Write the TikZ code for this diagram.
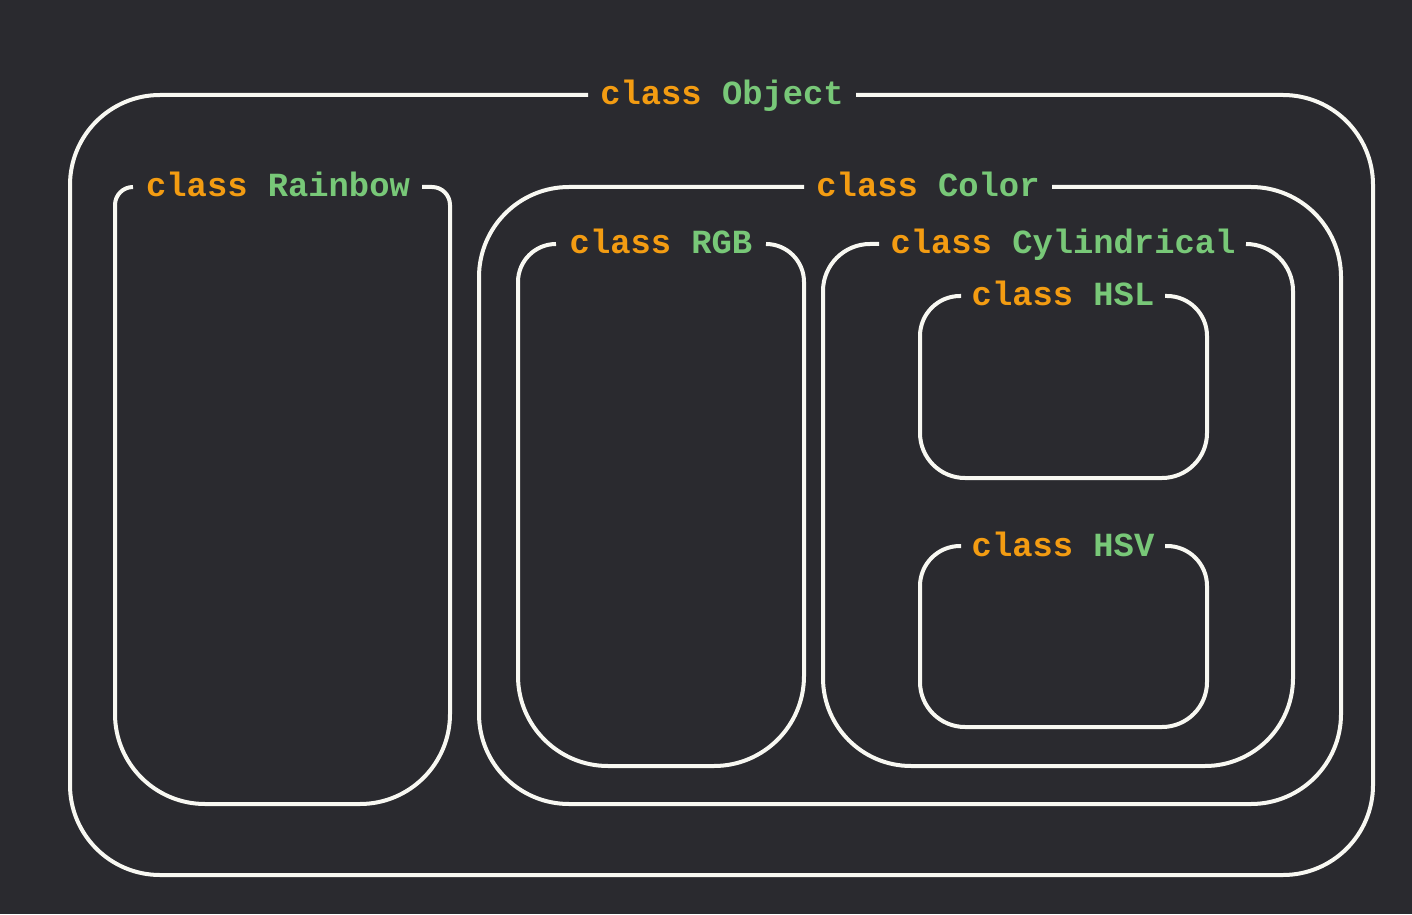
\documentclass[tikz,border=0pt]{standalone}
\usepackage{fontspec}
\newfontfamily\codefont{Liberation Mono}
\definecolor{bgc}{RGB}{42,42,47}
\definecolor{linec}{RGB}{248,248,242}
\definecolor{kwc}{RGB}{243,156,18}
\definecolor{namec}{RGB}{120,200,120}
\newcommand\kw[1]{\textcolor{kwc}{#1}}
\newcommand\nm[1]{\textcolor{namec}{#1}}
% #1 x1, #2 x2, #3 top y (px), #4 bottom y (px), #5 top radius, #6 bottom radius, #7 gap left, #8 gap right
\newcommand\classbox[8]{%
  \draw[boxline] ({#8},{914-#3}) -- ({#2-#5},{914-#3})
    arc[start angle=90,end angle=0,radius=#5pt]
    -- ({#2},{914-#4+#6})
    arc[start angle=0,end angle=-90,radius=#6pt]
    -- ({#1+#6},{914-#4})
    arc[start angle=270,end angle=180,radius=#6pt]
    -- ({#1},{914-#3-#5})
    arc[start angle=180,end angle=90,radius=#5pt]
    -- ({#7},{914-#3});}
\begin{document}
\begin{tikzpicture}[x=1pt,y=1pt,
  boxline/.style={draw=linec,line width=4pt},
  lbl/.style={anchor=base,inner sep=0pt,font=\codefont\bfseries\fontsize{33.8}{40}\selectfont}]
\fill[bgc] (0,0) rectangle (1412,914);
\useasboundingbox (0,0) rectangle (1412,914);
% boxes
\classbox{70}{1373}{95}{875}{90}{90}{588}{856}
\classbox{115}{450}{187}{804}{18}{90}{133}{422}
\classbox{479}{1341}{187}{804}{90}{90}{804}{1052}
\classbox{518}{804}{244}{766}{38}{90}{556}{766}
\classbox{823}{1293}{244}{766}{47}{88}{879}{1246}
\classbox{920}{1207}{296}{478}{40}{45}{961}{1165}
\classbox{920}{1207}{546}{727}{40}{45}{961}{1165}
% labels
\node[lbl] (object) at (722,{914-105}) {\kw{class} \nm{Object}};
\node[lbl] (rainbow) at (278,{914-197}) {\kw{class} \nm{Rainbow}};
\node[lbl] (color) at (928,{914-197}) {\kw{class} \nm{Color}};
\node[lbl] (rgb) at (661,{914-254}) {\kw{class} \nm{RGB}};
\node[lbl] (cyl) at (1063,{914-254}) {\kw{class} \nm{Cylindrical}};
\node[lbl] (hsl) at (1063,{914-306}) {\kw{class} \nm{HSL}};
\node[lbl] (hsv) at (1063,{914-556}) {\kw{class} \nm{HSV}};
\end{tikzpicture}
\end{document}
